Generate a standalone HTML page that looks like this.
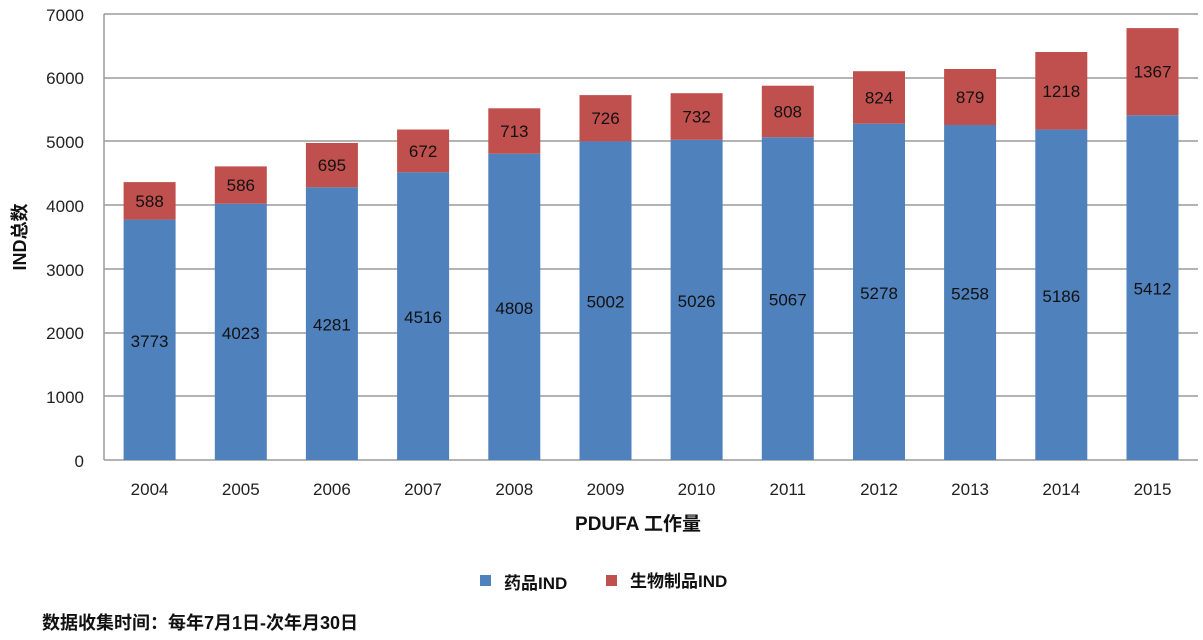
<!DOCTYPE html>
<html><head><meta charset="utf-8"><style>
html,body{margin:0;padding:0;background:#fff;width:1203px;height:640px;overflow:hidden}
text{font-family:"Liberation Sans","Noto Sans CJK SC",sans-serif}
</style></head><body>
<svg width="1203" height="640" xmlns="http://www.w3.org/2000/svg">
<g stroke="#9a9a9a" stroke-width="1.5">
<line x1="104" y1="14" x2="1198" y2="14"/>
<line x1="104" y1="78" x2="1198" y2="78"/>
<line x1="104" y1="141" x2="1198" y2="141"/>
<line x1="104" y1="205" x2="1198" y2="205"/>
<line x1="104" y1="269" x2="1198" y2="269"/>
<line x1="104" y1="333" x2="1198" y2="333"/>
<line x1="104" y1="396" x2="1198" y2="396"/>
<line x1="104" y1="14" x2="104" y2="460"/>
<line x1="104" y1="460" x2="1198" y2="460"/>
</g>
<g font-size="17" fill="#222" text-anchor="end">
<text x="84" y="21">7000</text><text x="84" y="84">6000</text><text x="84" y="148">5000</text>
<text x="84" y="212">4000</text><text x="84" y="276">3000</text><text x="84" y="339">2000</text>
<text x="84" y="403">1000</text><text x="84" y="467">0</text>
</g>
<g fill="#4f81bd">
<rect x="123.6" y="219.6" width="52" height="240.4"/>
<rect x="214.8" y="203.7" width="52" height="256.3"/>
<rect x="305.9" y="187.3" width="52" height="272.7"/>
<rect x="397.1" y="172.3" width="52" height="287.7"/>
<rect x="488.3" y="153.7" width="52" height="306.3"/>
<rect x="579.5" y="141.3" width="52" height="318.7"/>
<rect x="670.6" y="139.8" width="52" height="320.2"/>
<rect x="761.8" y="137.2" width="52" height="322.8"/>
<rect x="853.0" y="123.7" width="52" height="336.3"/>
<rect x="944.1" y="125.0" width="52" height="335.0"/>
<rect x="1035.3" y="129.6" width="52" height="330.4"/>
<rect x="1126.5" y="115.2" width="52" height="344.8"/>
</g>
<g fill="#c0504d">
<rect x="123.6" y="182.1" width="52" height="37.5"/>
<rect x="214.8" y="166.4" width="52" height="37.3"/>
<rect x="305.9" y="143.0" width="52" height="44.3"/>
<rect x="397.1" y="129.5" width="52" height="42.8"/>
<rect x="488.3" y="108.3" width="52" height="45.4"/>
<rect x="579.5" y="95.1" width="52" height="46.2"/>
<rect x="670.6" y="93.2" width="52" height="46.6"/>
<rect x="761.8" y="85.7" width="52" height="51.5"/>
<rect x="853.0" y="71.2" width="52" height="52.5"/>
<rect x="944.1" y="69.0" width="52" height="56.0"/>
<rect x="1035.3" y="52.0" width="52" height="77.6"/>
<rect x="1126.5" y="28.1" width="52" height="87.1"/>
</g>
<g font-size="17" fill="#111" text-anchor="middle">
<text x="149.6" y="346.8">3773</text><text x="149.6" y="206.9">588</text><text x="149.6" y="495" fill="#222">2004</text>
<text x="240.8" y="338.9">4023</text><text x="240.8" y="191.1">586</text><text x="240.8" y="495" fill="#222">2005</text>
<text x="331.9" y="330.7">4281</text><text x="331.9" y="171.2">695</text><text x="331.9" y="495" fill="#222">2006</text>
<text x="423.1" y="323.2">4516</text><text x="423.1" y="156.9">672</text><text x="423.1" y="495" fill="#222">2007</text>
<text x="514.3" y="313.9">4808</text><text x="514.3" y="137.0">713</text><text x="514.3" y="495" fill="#222">2008</text>
<text x="605.5" y="307.7">5002</text><text x="605.5" y="124.2">726</text><text x="605.5" y="495" fill="#222">2009</text>
<text x="696.6" y="306.9">5026</text><text x="696.6" y="122.5">732</text><text x="696.6" y="495" fill="#222">2010</text>
<text x="787.8" y="305.6">5067</text><text x="787.8" y="117.5">808</text><text x="787.8" y="495" fill="#222">2011</text>
<text x="879.0" y="298.9">5278</text><text x="879.0" y="103.5">824</text><text x="879.0" y="495" fill="#222">2012</text>
<text x="970.1" y="299.5">5258</text><text x="970.1" y="103.0">879</text><text x="970.1" y="495" fill="#222">2013</text>
<text x="1061.3" y="301.8">5186</text><text x="1061.3" y="96.8">1218</text><text x="1061.3" y="495" fill="#222">2014</text>
<text x="1152.5" y="294.6">5412</text><text x="1152.5" y="77.7">1367</text><text x="1152.5" y="495" fill="#222">2015</text>
</g>
<text x="26" y="237" font-size="18" font-weight="bold" fill="#111" text-anchor="middle" transform="rotate(-90 26 237)">IND总数</text>
<text x="638" y="530" font-size="19" font-weight="bold" fill="#111" text-anchor="middle">PDUFA 工作量</text>
<rect x="480" y="575" width="11" height="11" fill="#4f81bd"/>
<text x="504" y="589" font-size="17" font-weight="bold" fill="#111">药品IND</text>
<rect x="606" y="575" width="11" height="11" fill="#c0504d"/>
<text x="630" y="587" font-size="17" font-weight="bold" fill="#111">生物制品IND</text>
<text x="42" y="629" font-size="18" font-weight="bold" fill="#111">数据收集时间：每年7月1日-次年月30日</text>
</svg>
</body></html>
